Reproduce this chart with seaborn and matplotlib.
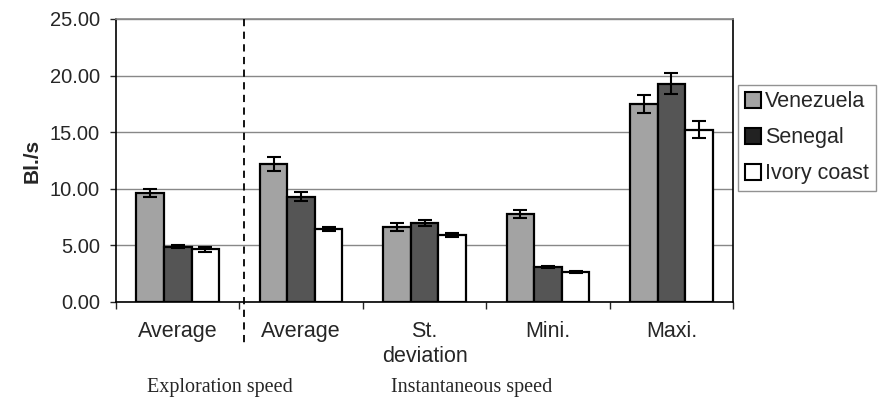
import numpy as np
import pandas as pd
import matplotlib
import matplotlib.pyplot as plt
import seaborn as sns

matplotlib.use('Agg')

categories = ['Average', 'Average ', 'St.\ndeviation', 'Mini.', 'Maxi.']
countries = ['Venezuela', 'Senegal', 'Ivory coast']
venezuela = [9.65, 12.2, 6.65, 7.8, 17.5]
senegal = [4.9, 9.3, 6.95, 3.1, 19.3]
ivory = [4.65, 6.45, 5.9, 2.65, 15.2]
venezuela_err = [0.35, 0.6, 0.35, 0.35, 0.8]
senegal_err = [0.1, 0.4, 0.25, 0.1, 0.9]
ivory_err = [0.2, 0.2, 0.2, 0.1, 0.75]

colors = ['#a3a3a3', '#555555', '#ffffff']

df = pd.DataFrame({
    'category': categories * 3,
    'country': np.repeat(countries, len(categories)),
    'value': venezuela + senegal + ivory,
})
errs = [venezuela_err, senegal_err, ivory_err]

sns.set_style('white')
plt.rcParams['font.family'] = ['Liberation Sans', 'DejaVu Sans']

fig = plt.figure(figsize=(8.79, 4.04), dpi=100)
ax = fig.add_axes([0.132, 0.2525, 0.702, 0.7005])

sns.barplot(data=df, x='category', y='value', hue='country', hue_order=countries,
            order=categories, palette=colors, width=0.67, errorbar=None,
            edgecolor='black', linewidth=1.6, ax=ax, legend=False)

# error bars at the bar centres
for cont, e in zip(ax.containers, errs):
    xs = [p.get_x() + p.get_width() / 2 for p in cont.patches]
    ys = [p.get_height() for p in cont.patches]
    ax.errorbar(xs, ys, yerr=e, fmt='none', ecolor='black', elinewidth=1.5,
                capsize=5, capthick=1.5, zorder=5)

ax.set_xlim(-0.5, 4.5)
ax.set_ylim(0, 25)
ax.set_yticks(np.arange(0, 26, 5))
ax.set_yticklabels([f'{v:.2f}' for v in np.arange(0, 26, 5)], fontsize=14.5)
ax.yaxis.grid(True, color='#888888', linewidth=1)
ax.set_axisbelow(True)
for s in ax.spines.values():
    s.set_color('black')
    s.set_linewidth(1.2)
ax.spines['top'].set_color('#888888')
ax.tick_params(axis='y', left=True, direction='out', length=4.5, width=1, pad=7)

ax.set_xticks(range(len(categories)))
ax.set_xticklabels(['Average', 'Average', 'St.\ndeviation', 'Mini.', 'Maxi.'], fontsize=15.5)
ax.set_xticks(np.arange(-0.5, 5, 1), minor=True)
ax.tick_params(axis='x', which='major', length=0, pad=14)
ax.tick_params(axis='x', which='minor', bottom=True, direction='out', length=5, width=1)
ax.set_xlabel('')
ax.set_ylabel('Bl./s', fontsize=15, fontweight='bold', labelpad=6)

# dashed separator between the two speed groups
ax.plot([0.54, 0.54], [25, -3.8], color='black', linestyle=(0, (4, 3)),
        linewidth=1.3, clip_on=False, zorder=6)

fig.text(0.25, 0.04, 'Exploration speed', family='Liberation Serif', fontsize=14.5,
         ha='center', va='center')
fig.text(0.537, 0.04, 'Instantaneous speed', family='Liberation Serif', fontsize=14.5,
         ha='center', va='center')

handles = [plt.Rectangle((0, 0), 1, 1, facecolor=c, edgecolor='black', linewidth=1.5)
           for c in ['#a3a3a3', '#222222', '#ffffff']]
leg = fig.legend(handles, countries, loc='upper left', bbox_to_anchor=(0.840, 0.79),
                 fontsize=15.5, frameon=True, fancybox=False, handlelength=0.75,
                 handleheight=0.75, handletextpad=0.2, labelspacing=0.7,
                 borderpad=0.3, borderaxespad=0)
leg.get_frame().set_edgecolor('#777777')
leg.get_frame().set_linewidth(1)

fig.savefig('out.png', dpi=100)
